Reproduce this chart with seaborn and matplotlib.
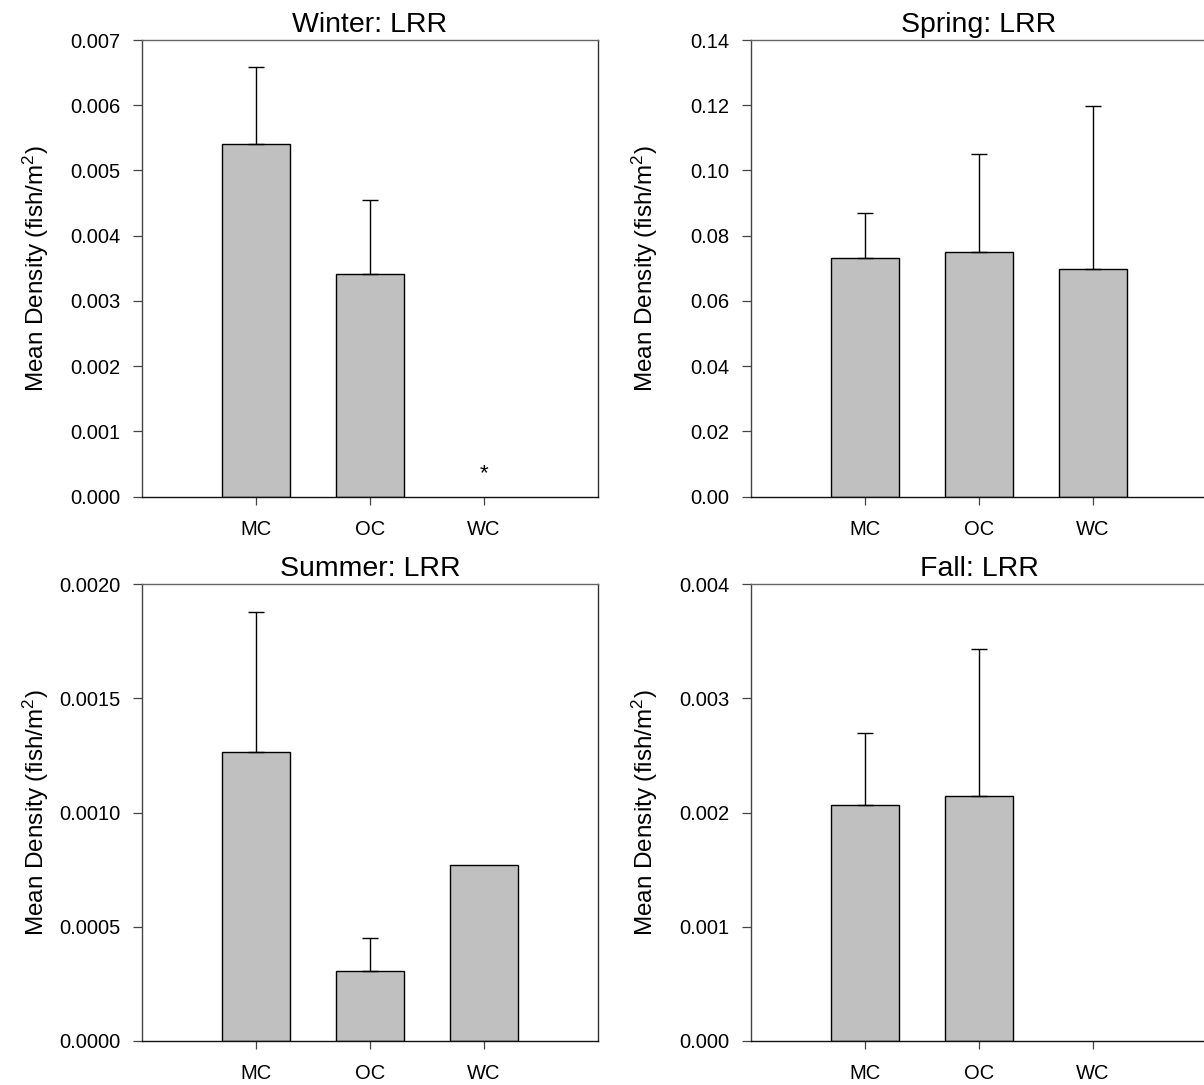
import matplotlib
matplotlib.use("Agg")
import matplotlib.pyplot as plt
import seaborn as sns
import pandas as pd
import numpy as np

sns.set_theme(style="white")
plt.rcParams["font.family"] = ["Liberation Sans", "DejaVu Sans"]
plt.rcParams["mathtext.fontset"] = "custom"
plt.rcParams["mathtext.rm"] = "Liberation Sans"
plt.rcParams["mathtext.it"] = "Liberation Sans"
plt.rcParams["text.color"] = "black"
plt.rcParams["axes.labelcolor"] = "black"
plt.rcParams["xtick.color"] = "black"
plt.rcParams["ytick.color"] = "black"

sites = ["MC", "OC", "WC"]

# mean density and upper end of the error bar for each season
winter_mean = [0.00540, 0.00342, 0.0]
winter_upper = [0.00658, 0.00454, None]
spring_mean = [0.0733, 0.0750, 0.0699]
spring_upper = [0.0871, 0.1051, 0.1199]
summer_mean = [0.001264, 0.000308, 0.000769]
summer_upper = [0.00188, 0.000452, None]
fall_mean = [0.00207, 0.00215, 0.0]
fall_upper = [0.00270, 0.00343, None]

winter_ticks = [0.000, 0.001, 0.002, 0.003, 0.004, 0.005, 0.006, 0.007]
spring_ticks = [0.00, 0.02, 0.04, 0.06, 0.08, 0.10, 0.12, 0.14]
summer_ticks = [0.0000, 0.0005, 0.0010, 0.0015, 0.0020]
fall_ticks = [0.000, 0.001, 0.002, 0.003, 0.004]

panels = [
    ("Winter: LRR", winter_mean, winter_upper, winter_ticks, "{:.3f}"),
    ("Spring: LRR", spring_mean, spring_upper, spring_ticks, "{:.2f}"),
    ("Summer: LRR", summer_mean, summer_upper, summer_ticks, "{:.4f}"),
    ("Fall: LRR", fall_mean, fall_upper, fall_ticks, "{:.3f}"),
]

W, H = 1204, 1085
fig = plt.figure(figsize=(W / 100, H / 100), dpi=100)

# axes boxes in pixels: (left, top)
ax_w, ax_h = 456.6, 456.7
boxes = [(141.7, 40.0), (750.7, 40.0), (141.7, 584.3), (750.7, 584.3)]

for (title, means, uppers, ticks, fmt), (lx, ty) in zip(panels, boxes):
    ax = fig.add_axes([lx / W, 1 - (ty + ax_h) / H, ax_w / W, ax_h / H])
    df = pd.DataFrame({"site": sites, "density": means})
    sns.barplot(data=df, x="site", y="density", order=sites, ax=ax,
                color="#c0c0c0", saturation=1, width=0.6,
                edgecolor="black", linewidth=1.0, errorbar=None)
    # empty sites get no visible bar outline
    for patch in ax.patches:
        if patch.get_height() == 0:
            patch.set_visible(False)
    for i, (m, u) in enumerate(zip(means, uppers)):
        if u is None:
            continue
        ax.errorbar(i, m, yerr=[[0], [u - m]], fmt="none", ecolor="black",
                    elinewidth=1.0, capsize=5.8, capthick=1.0, zorder=1)
    ax.set_xlim(-1, 3)
    ax.set_ylim(ticks[0], ticks[-1])
    ax.set_yticks(ticks)
    ax.set_yticklabels([fmt.format(t) for t in ticks])
    ax.set_xlabel("")
    ax.set_ylabel(r"Mean Density (fish/m$^2$)", fontsize=17.5)
    ax.yaxis.set_label_coords(-0.198, 0.5)
    ax.set_title(title, fontsize=20.5, pad=6)
    ax.tick_params(axis="y", direction="out", length=6.8, width=0.9,
                   color="#444444", labelsize=14.5, pad=8.5, left=True)
    ax.tick_params(axis="x", direction="out", length=5.5, width=0.9,
                   color="#444444", labelsize=14.5, pad=11, bottom=True)
    for side in ["top", "right", "left", "bottom"]:
        ax.spines[side].set_visible(True)
        ax.spines[side].set_linewidth(1.0)
    ax.spines["top"].set_color("#666666")
    ax.spines["left"].set_color("#444444")
    ax.spines["right"].set_color("#333333")
    ax.spines["bottom"].set_color("#111111")
    ax.grid(False)
    if title.startswith("Winter"):
        ax.text(2, 0.00027, "*", ha="center", va="baseline", fontsize=16,
                color="black")

fig.savefig("out.png", dpi=100)
